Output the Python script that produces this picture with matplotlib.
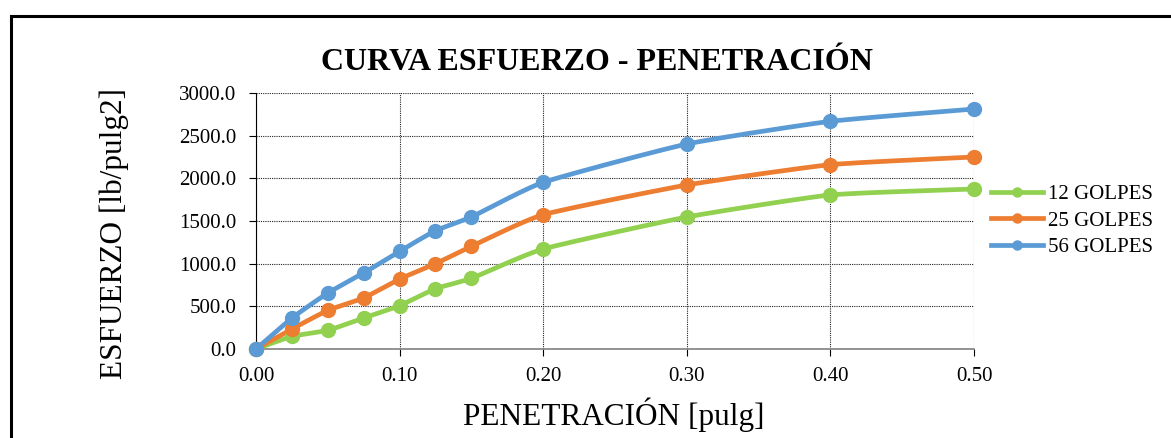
import numpy as np
import matplotlib.pyplot as plt
from matplotlib.patches import Rectangle

plt.rcParams['font.family'] = ['Liberation Serif', 'DejaVu Serif']

# penetración [pulg] y esfuerzo [lb/pulg2] por número de golpes
penetracion = [0.0, 0.025, 0.05, 0.075, 0.10, 0.125, 0.15, 0.20, 0.30, 0.40, 0.50]
golpes_12 = [0.0, 148, 219, 363, 508, 707, 828, 1172, 1547, 1805, 1875]
golpes_25 = [0.0, 234, 453, 598, 820, 1000, 1203, 1574, 1922, 2160, 2250]
golpes_56 = [0.0, 363, 656, 891, 1145, 1387, 1547, 1953, 2402, 2668, 2812]

series = [
    ("12 GOLPES", golpes_12, "#92D050"),
    ("25 GOLPES", golpes_25, "#ED7D31"),
    ("56 GOLPES", golpes_56, "#5B9BD5"),
]


def suavizar(x, y, n=30, t=0.5):
    """Curva tipo Catmull-Rom entre los puntos (linea suavizada estilo Excel)."""
    x = np.asarray(x, float)
    y = np.asarray(y, float)
    px = np.concatenate([[x[0]], x, [x[-1]]])
    py = np.concatenate([[y[0]], y, [y[-1]]])
    xs, ys = [], []
    s = np.linspace(0, 1, n)
    h00 = 2 * s**3 - 3 * s**2 + 1
    h10 = s**3 - 2 * s**2 + s
    h01 = -2 * s**3 + 3 * s**2
    h11 = s**3 - s**2
    for i in range(1, len(px) - 2):
        p0, p1, p2, p3 = (np.array([px[j], py[j]]) for j in range(i - 1, i + 3))
        m1 = t * (p2 - p0) / 2
        m2 = t * (p3 - p1) / 2
        pts = (np.outer(h00, p1) + np.outer(h10, m1) + np.outer(h01, p2) + np.outer(h11, m2))
        xs.extend(pts[:, 0])
        ys.extend(pts[:, 1])
    return np.array(xs), np.array(ys)


fig = plt.figure(figsize=(11.71, 4.38), dpi=100)
ax = fig.add_axes([0.2186, 0.2032, 0.6132, 0.5845])

# marco del grafico
fig.patches.append(Rectangle((11 / 1171, -0.1), 1.2, 1.1 - 16 / 438,
                             transform=fig.transFigure, fill=False,
                             edgecolor='black', linewidth=2.2))

for nombre, valores, color in series:
    xs, ys = suavizar(penetracion, valores)
    ax.plot(xs, ys, color=color, linewidth=3.4, solid_capstyle='round', zorder=3, clip_on=False)
    ax.plot(penetracion, valores, 'o', color=color, markersize=10, zorder=4, clip_on=False)
    ax.plot([], [], '-o', color=color, linewidth=3.4, markersize=6.5, label=nombre)

ax.set_xlim(0, 0.5)
ax.set_ylim(0, 3000)
ax.set_xticks(np.arange(0, 0.51, 0.1))
ax.set_yticks(np.arange(0, 3001, 500))
ax.xaxis.set_major_formatter(plt.FuncFormatter(lambda v, p: f"{v:.2f}"))
ax.yaxis.set_major_formatter(plt.FuncFormatter(lambda v, p: f"{v:.1f}"))
ax.tick_params(axis='both', labelsize=15, direction='out', length=5, width=0.8, colors='black')
ax.tick_params(axis='y', pad=9)
ax.tick_params(axis='x', pad=8)
ax.grid(True, color='#222222', linestyle=(0, (1, 1)), linewidth=0.8)
ax.set_axisbelow(True)

for lado in ['top', 'right']:
    ax.spines[lado].set_visible(False)
ax.spines['left'].set_color('black')
ax.spines['bottom'].set_color('#808080')
ax.spines['bottom'].set_linewidth(1.2)

fig.text(0.510, 0.858, "CURVA ESFUERZO - PENETRACIÓN", ha='center', va='center',
         fontsize=23, fontweight='bold')
fig.text(0.0975, 0.467, "ESFUERZO [lb/pulg2]", rotation=90, ha='center', va='center', fontsize=22.5)
fig.text(0.5237, 0.052, "PENETRACIÓN [pulg]", ha='center', va='center', fontsize=22.5)

ax.legend(loc='center left', bbox_to_anchor=(1.012, 0.5), frameon=False, fontsize=15,
          handlelength=2.5, handletextpad=0.25, labelspacing=0.33, borderaxespad=0)

fig.savefig("out.png", dpi=100)
plt.close(fig)
